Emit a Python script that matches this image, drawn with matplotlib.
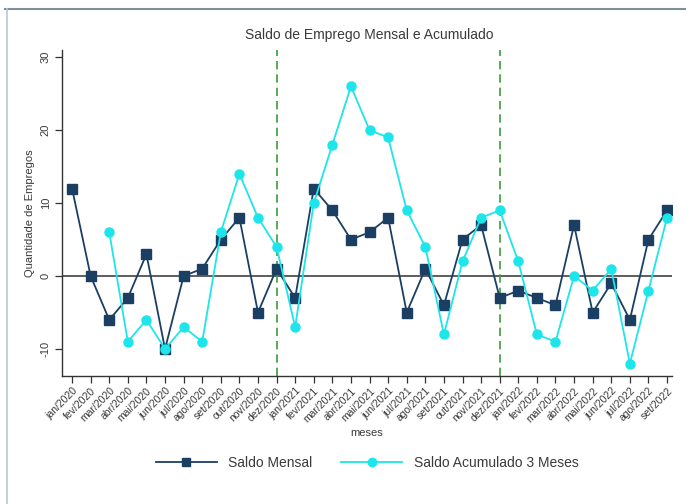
import matplotlib
matplotlib.use("Agg")
import matplotlib.pyplot as plt
from matplotlib.lines import Line2D

plt.rcParams['font.family'] = ['Liberation Sans', 'DejaVu Sans']

months = ["jan/2020", "fev/2020", "mar/2020", "abr/2020", "mai/2020", "jun/2020",
          "jul/2020", "ago/2020", "set/2020", "out/2020", "nov/2020", "dez/2020",
          "jan/2021", "fev/2021", "mar/2021", "abr/2021", "mai/2021", "jun/2021",
          "jul/2021", "ago/2021", "set/2021", "out/2021", "nov/2021", "dez/2021",
          "jan/2022", "fev/2022", "mar/2022", "abr/2022", "mai/2022", "jun/2022",
          "jul/2022", "ago/2022", "set/2022"]

saldo_mensal = [12, 0, -6, -3, 3, -10, 0, 1, 5, 8, -5, 1,
                -3, 12, 9, 5, 6, 8, -5, 1, -4, 5, 7, -3,
                -2, -3, -4, 7, -5, -1, -6, 5, 9]

# 3-month accumulated balance starts at mar/2020
acum_months = months[2:]
saldo_acum3 = [6, -9, -6, -10, -7, -9, 6, 14, 8, 4,
               -7, 10, 18, 26, 20, 19, 9, 4, -8, 2, 8, 9,
               2, -8, -9, 0, -2, 1, -12, -2, 8]

vlines_at = ["dez/2020", "dez/2021"]
yticks = [-10, 0, 10, 20, 30]

navy = "#1b3f63"
cyan = "#1de5ea"
green = "#3b9c3b"
txt = "#3a3a3a"

fig = plt.figure(figsize=(6.86, 5.04), dpi=100)
ax = fig.add_axes([0.0904, 0.254, 0.889, 0.647])

xi = list(range(len(months)))
xa = [months.index(m) for m in acum_months]

ax.axhline(0, color="#505050", lw=1.3, zorder=1)
for m in vlines_at:
    ax.axvline(months.index(m), color=green, lw=1.2, ls=(0, (5, 3)), zorder=1)

ax.plot(xi, saldo_mensal, color=navy, lw=1.3, marker="s", ms=6.5,
        markerfacecolor=navy, markeredgecolor=navy, label="Saldo Mensal", zorder=3)
ax.plot(xa, saldo_acum3, color=cyan, lw=1.3, marker="o", ms=6.5,
        markerfacecolor=cyan, markeredgecolor=cyan, label="Saldo Acumulado 3 Meses", zorder=4)

ax.set_xlim(-0.54, 32.26)
ax.set_ylim(-13.7, 31)
ax.set_xticks(xi)
ax.set_xticklabels(months, rotation=45, ha="right", va="top", rotation_mode="anchor",
                   fontsize=7.5, color=txt)
ax.set_yticks(yticks)
ax.set_yticklabels([str(v) for v in yticks], rotation=90, va="center", fontsize=8,
                   color=txt)
ax.tick_params(axis="both", direction="out", length=5, width=0.9, color="#333333")
ax.tick_params(axis="x", pad=2)
ax.tick_params(axis="y", pad=3)

for s in ["top", "right"]:
    ax.spines[s].set_visible(False)
for s in ["left", "bottom"]:
    ax.spines[s].set_color("#333333")
    ax.spines[s].set_linewidth(1.0)

ax.set_ylabel("Quantidade de Empregos", fontsize=8, color=txt, labelpad=4)
ax.set_xlabel("meses", fontsize=8, color=txt, labelpad=3)

fig.text(0.538, 0.93, "Saldo de Emprego Mensal e Acumulado", ha="center", va="center",
         fontsize=10, color=txt)

handles = [Line2D([0], [0], color=navy, lw=1.3, marker="s", ms=6, markerfacecolor=navy),
           Line2D([0], [0], color=cyan, lw=1.3, marker="o", ms=6, markerfacecolor=cyan)]
fig.legend(handles, ["Saldo Mensal", "Saldo Acumulado 3 Meses"], loc="center",
           bbox_to_anchor=(0.535, 0.081), ncol=2, frameon=False, fontsize=10,
           handlelength=4.4, columnspacing=2.1, handletextpad=0.8, labelcolor=txt)

# figure border (top and left), as in the screenshot
fig.add_artist(Line2D([0.008, 1.0], [0.982, 0.982], transform=fig.transFigure,
                      color="#7f8f9e", lw=1.5))
fig.add_artist(Line2D([0.010, 0.010], [0.0, 0.982], transform=fig.transFigure,
                      color="#b8c8d8", lw=1.2))

fig.savefig("out.png", dpi=100, facecolor="white")
